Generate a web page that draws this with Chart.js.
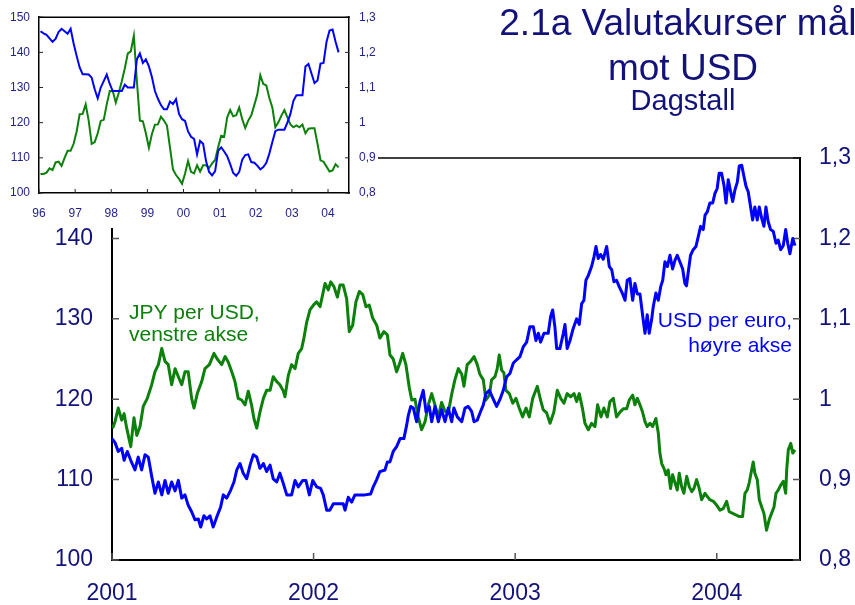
<!DOCTYPE html>
<html>
<head>
<meta charset="utf-8">
<script src="https://cdn.jsdelivr.net/npm/chart.js@4.4.1/dist/chart.umd.min.js"></script>
<style>
  body { margin: 0; background: #fff; }
  #wrap { position: relative; width: 855px; height: 605px; overflow: hidden; }
  #main { position: absolute; left: 0; top: 0; }
  #inset { position: absolute; left: 0; top: 0; background: #fff; }
</style>
</head>
<body>
<div id="wrap">
  <canvas id="main" width="855" height="605"></canvas>
  <canvas id="inset" width="378" height="228"></canvas>
</div>
<script>
// Tekster
const titleLines = ['2.1a Valutakurser målt', 'mot USD'];
const subtitle = 'Dagstall';
const jpyLabel = ['JPY per USD,', 'venstre akse'];
const eurLabel = ['USD per euro,', 'høyre akse'];

// Hovedfigur: dagstall 2001 - mai 2004 (desimalår)
const yearTicks = [2001, 2002, 2003, 2004];

const jpyYears = [
  2001.003, 2001.015, 2001.031, 2001.048, 2001.060, 2001.073, 2001.093, 2001.109, 2001.123, 2001.139,
  2001.155, 2001.175, 2001.197, 2001.213, 2001.230, 2001.247, 2001.263, 2001.279, 2001.296, 2001.313,
  2001.329, 2001.346, 2001.362, 2001.378, 2001.395, 2001.407, 2001.423, 2001.445, 2001.461, 2001.483,
  2001.506, 2001.522, 2001.544, 2001.561, 2001.577, 2001.594, 2001.610, 2001.626, 2001.643, 2001.660,
  2001.676, 2001.693, 2001.704, 2001.718, 2001.734, 2001.751, 2001.767, 2001.784, 2001.800, 2001.817,
  2001.833, 2001.850, 2001.858, 2001.875, 2001.891, 2001.908, 2001.924, 2001.941, 2001.952, 2001.966,
  2001.982, 2001.999, 2002.015, 2002.032, 2002.045, 2002.057, 2002.073, 2002.085, 2002.101, 2002.118,
  2002.131, 2002.147, 2002.164, 2002.177, 2002.194, 2002.210, 2002.227, 2002.244, 2002.260, 2002.276,
  2002.293, 2002.313, 2002.329, 2002.349, 2002.366, 2002.379, 2002.395, 2002.412, 2002.429, 2002.442,
  2002.458, 2002.475, 2002.487, 2002.503, 2002.519, 2002.536, 2002.553, 2002.569, 2002.586, 2002.602,
  2002.619, 2002.635, 2002.652, 2002.668, 2002.685, 2002.701, 2002.718, 2002.735, 2002.746, 2002.762,
  2002.779, 2002.796, 2002.812, 2002.825, 2002.842, 2002.855, 2002.872, 2002.883, 2002.900, 2002.911,
  2002.921, 2002.933, 2002.944, 2002.954, 2002.971, 2002.988, 2003.004, 2003.020, 2003.037, 2003.054,
  2003.070, 2003.087, 2003.110, 2003.126, 2003.139, 2003.156, 2003.173, 2003.192, 2003.209, 2003.226,
  2003.242, 2003.258, 2003.275, 2003.292, 2003.305, 2003.318, 2003.335, 2003.346, 2003.363, 2003.379,
  2003.396, 2003.409, 2003.426, 2003.440, 2003.457, 2003.470, 2003.487, 2003.503, 2003.520, 2003.536,
  2003.553, 2003.566, 2003.583, 2003.594, 2003.606, 2003.619, 2003.632, 2003.644, 2003.655, 2003.669,
  2003.682, 2003.698, 2003.710, 2003.718, 2003.727, 2003.738, 2003.748, 2003.759, 2003.771, 2003.781,
  2003.793, 2003.804, 2003.814, 2003.826, 2003.837, 2003.851, 2003.864, 2003.876, 2003.887, 2003.900,
  2003.913, 2003.925, 2003.942, 2003.953, 2003.966, 2003.983, 2004.000, 2004.016, 2004.032, 2004.049,
  2004.062, 2004.079, 2004.095, 2004.112, 2004.128, 2004.140, 2004.151, 2004.161, 2004.170, 2004.181,
  2004.189, 2004.201, 2004.211, 2004.223, 2004.234, 2004.247, 2004.260, 2004.272, 2004.284, 2004.294,
  2004.305, 2004.317, 2004.330, 2004.342, 2004.347, 2004.355, 2004.367, 2004.377, 2004.388
];
const jpyValues = [
  116.4, 117.2, 118.9, 117.4, 118.2, 116.4, 114.1, 117.7, 115.5, 116.6,
  119.1, 120.1, 121.8, 123.4, 124.3, 126.3, 124.7, 124.3, 121.8, 123.8,
  122.8, 121.8, 123.4, 123.4, 120.1, 118.9, 120.7, 122.2, 123.8, 124.3,
  125.7, 125.0, 124.3, 125.3, 124.6, 123.4, 122.2, 120.1, 119.9, 119.3,
  121.0, 119.2, 117.6, 116.4, 118.4, 120.1, 121.1, 121.1, 122.8, 122.2,
  121.8, 121.0, 120.3, 123.0, 124.3, 123.8, 125.7, 126.3, 127.6, 129.6,
  131.1, 131.7, 132.1, 131.5, 133.0, 134.4, 133.6, 134.6, 134.0, 132.7,
  134.2, 134.2, 132.5, 128.4, 129.2, 132.1, 133.4, 133.0, 131.5, 131.7,
  130.1, 129.2, 127.6, 128.4, 128.0, 125.5, 125.0, 123.4, 124.6, 125.7,
  124.3, 121.4, 119.9, 120.0, 117.8, 116.2, 117.2, 119.3, 120.7, 119.3,
  117.8, 119.6, 118.5, 118.3, 120.6, 122.4, 123.8, 123.1, 121.6, 124.3,
  124.7, 125.3, 124.3, 123.1, 122.4, 119.9, 120.5, 122.4, 122.8, 123.8,
  125.5, 123.6, 123.3, 121.1, 120.7, 119.5, 120.1, 118.9, 117.8, 118.9,
  117.8, 120.1, 121.6, 119.9, 118.7, 118.3, 117.0, 118.4, 121.1, 120.1,
  119.5, 120.7, 120.3, 120.7, 119.7, 120.7, 118.7, 117.0, 116.2, 117.0,
  116.6, 119.3, 117.8, 118.9, 117.8, 119.7, 120.1, 117.8, 118.4, 118.8,
  118.8, 119.9, 120.5, 119.3, 120.1, 119.3, 118.4, 117.2, 116.6, 117.0,
  116.6, 117.6, 115.8, 113.3, 112.0, 111.4, 110.6, 111.2, 108.9, 110.6,
  109.6, 108.7, 110.8, 109.1, 108.3, 110.4, 109.1, 108.5, 108.9, 110.0,
  108.9, 107.5, 108.3, 107.9, 107.5, 107.3, 106.8, 106.2, 106.4, 107.3,
  106.0, 105.8, 105.6, 105.4, 105.4, 108.3, 108.7, 109.6, 110.8, 112.2,
  110.8, 110.0, 107.5, 106.6, 105.8, 103.7, 105.0, 105.8, 106.6, 108.3,
  108.7, 109.3, 109.8, 108.3, 111.2, 113.7, 114.5, 113.3, 113.7
];

const eurYears = [
  2001.000, 2001.015, 2001.031, 2001.048, 2001.060, 2001.076, 2001.093, 2001.114, 2001.130, 2001.147,
  2001.164, 2001.180, 2001.197, 2001.213, 2001.230, 2001.247, 2001.263, 2001.279, 2001.296, 2001.313,
  2001.329, 2001.346, 2001.362, 2001.378, 2001.395, 2001.412, 2001.428, 2001.440, 2001.456, 2001.470,
  2001.486, 2001.502, 2001.522, 2001.539, 2001.552, 2001.569, 2001.589, 2001.605, 2001.619, 2001.635,
  2001.651, 2001.668, 2001.685, 2001.701, 2001.718, 2001.734, 2001.751, 2001.767, 2001.784, 2001.800,
  2001.817, 2001.833, 2001.850, 2001.867, 2001.891, 2001.908, 2001.924, 2001.946, 2001.962, 2001.979,
  2001.996, 2002.015, 2002.035, 2002.048, 2002.065, 2002.081, 2002.098, 2002.118, 2002.147, 2002.156,
  2002.172, 2002.189, 2002.205, 2002.230, 2002.255, 2002.283, 2002.296, 2002.313, 2002.329, 2002.354,
  2002.366, 2002.379, 2002.395, 2002.412, 2002.429, 2002.448, 2002.462, 2002.470, 2002.482, 2002.495,
  2002.511, 2002.528, 2002.544, 2002.558, 2002.574, 2002.586, 2002.602, 2002.619, 2002.635, 2002.652,
  2002.668, 2002.685, 2002.696, 2002.713, 2002.735, 2002.751, 2002.767, 2002.784, 2002.796, 2002.812,
  2002.829, 2002.842, 2002.855, 2002.872, 2002.888, 2002.908, 2002.925, 2002.941, 2002.958, 2002.974,
  2002.991, 2003.007, 2003.024, 2003.040, 2003.057, 2003.073, 2003.090, 2003.103, 2003.115, 2003.126,
  2003.143, 2003.164, 2003.176, 2003.186, 2003.197, 2003.206, 2003.222, 2003.239, 2003.247, 2003.258,
  2003.272, 2003.288, 2003.305, 2003.318, 2003.330, 2003.341, 2003.351, 2003.363, 2003.379, 2003.391,
  2003.401, 2003.412, 2003.424, 2003.437, 2003.454, 2003.467, 2003.479, 2003.490, 2003.503, 2003.516,
  2003.533, 2003.545, 2003.556, 2003.569, 2003.583, 2003.594, 2003.606, 2003.619, 2003.627, 2003.635,
  2003.644, 2003.655, 2003.665, 2003.677, 2003.685, 2003.698, 2003.710, 2003.722, 2003.732, 2003.743,
  2003.755, 2003.768, 2003.781, 2003.793, 2003.804, 2003.817, 2003.831, 2003.842, 2003.850, 2003.858,
  2003.870, 2003.883, 2003.897, 2003.908, 2003.920, 2003.933, 2003.942, 2003.953, 2003.966, 2003.980,
  2003.991, 2004.002, 2004.012, 2004.024, 2004.036, 2004.046, 2004.057, 2004.069, 2004.079, 2004.090,
  2004.102, 2004.112, 2004.124, 2004.135, 2004.145, 2004.156, 2004.168, 2004.178, 2004.189, 2004.201,
  2004.211, 2004.223, 2004.234, 2004.244, 2004.255, 2004.267, 2004.280, 2004.294, 2004.305, 2004.317,
  2004.330, 2004.342, 2004.352, 2004.363, 2004.377, 2004.388
];
const eurValues = [
  0.951, 0.946, 0.935, 0.939, 0.924, 0.935, 0.924, 0.912, 0.928, 0.912,
  0.931, 0.928, 0.904, 0.883, 0.897, 0.881, 0.899, 0.883, 0.897, 0.886,
  0.899, 0.877, 0.881, 0.868, 0.860, 0.850, 0.851, 0.841, 0.855, 0.851,
  0.855, 0.841, 0.855, 0.866, 0.881, 0.877, 0.887, 0.897, 0.912, 0.920,
  0.908, 0.901, 0.918, 0.931, 0.928, 0.914, 0.920, 0.910, 0.918, 0.901,
  0.897, 0.908, 0.895, 0.881, 0.881, 0.899, 0.891, 0.899, 0.899, 0.881,
  0.899, 0.891, 0.889, 0.881, 0.862, 0.862, 0.870, 0.870, 0.870, 0.862,
  0.878, 0.872, 0.881, 0.881, 0.881, 0.882, 0.891, 0.900, 0.910, 0.912,
  0.922, 0.922, 0.935, 0.941, 0.951, 0.951, 0.968, 0.980, 0.991, 0.989,
  0.972, 0.997, 1.011, 0.984, 0.991, 0.972, 0.991, 0.972, 0.987, 0.972,
  0.989, 0.972, 0.989, 0.978, 0.972, 0.989, 0.991, 0.985, 0.972, 0.974,
  0.985, 0.993, 1.007, 1.011, 1.002, 0.991, 1.000, 1.011, 1.028, 1.032,
  1.045, 1.049, 1.053, 1.065, 1.071, 1.090, 1.090, 1.073, 1.082, 1.071,
  1.082, 1.082, 1.103, 1.111, 1.090, 1.063, 1.063, 1.082, 1.093, 1.063,
  1.073, 1.088, 1.100, 1.093, 1.119, 1.123, 1.148, 1.154, 1.165, 1.177,
  1.190, 1.175, 1.180, 1.174, 1.190, 1.165, 1.161, 1.146, 1.148, 1.140,
  1.131, 1.123, 1.148, 1.150, 1.123, 1.144, 1.131, 1.131, 1.115, 1.099,
  1.082, 1.105, 1.082, 1.099, 1.115, 1.132, 1.123, 1.140, 1.148, 1.171,
  1.165, 1.179, 1.162, 1.173, 1.179, 1.171, 1.162, 1.144, 1.141, 1.157,
  1.179, 1.186, 1.190, 1.202, 1.215, 1.211, 1.229, 1.233, 1.244, 1.244,
  1.256, 1.262, 1.281, 1.281, 1.266, 1.244, 1.273, 1.258, 1.246, 1.260,
  1.270, 1.290, 1.291, 1.277, 1.265, 1.258, 1.239, 1.223, 1.239, 1.223,
  1.239, 1.225, 1.215, 1.239, 1.221, 1.211, 1.209, 1.194, 1.198, 1.186,
  1.191, 1.211, 1.194, 1.181, 1.200, 1.191
];

// Innfelt figur: månedstall fra januar 1996
const insetStart = 1996;
const insetYearTicks = [1996, 1997, 1998, 1999, 2000, 2001, 2002, 2003, 2004];
const insetJpy = [
  105.4, 105.4, 105.8, 107.0, 106.5, 108.7, 108.9, 107.7, 110.0, 112.0,
  112.0, 114.0, 117.5, 122.4, 122.5, 125.2, 120.6, 114.0, 114.5, 117.0,
  120.5, 120.8, 125.2, 129.0, 129.0, 125.7, 128.5, 131.8, 135.5, 139.7,
  140.3, 144.7, 132.0, 120.6, 120.4, 117.0, 112.9, 116.8, 119.4, 119.5,
  121.7, 120.6, 119.2, 113.0, 106.7, 105.1, 104.0, 102.6, 105.5, 109.1,
  106.0, 105.6, 107.9, 106.1, 107.9, 107.9, 107.1, 108.4, 109.4, 113.0,
  116.3, 116.0, 121.5, 123.6, 121.8, 122.1, 124.3, 121.0, 118.5, 120.6,
  122.1, 125.0, 128.0, 133.5, 131.0, 130.6, 127.0, 124.3, 118.7, 120.1,
  122.0, 123.6, 121.5, 119.5, 118.7, 119.2, 118.7, 119.5, 117.0, 118.3,
  118.4, 118.4, 114.0, 109.3, 108.9, 107.5, 106.1, 106.4, 108.2, 107.3
];
const insetEur = [
  1.260, 1.254, 1.250, 1.240, 1.230, 1.238, 1.258, 1.267, 1.260, 1.253,
  1.267, 1.225, 1.190, 1.157, 1.138, 1.138, 1.137, 1.128, 1.095, 1.069,
  1.100, 1.118, 1.137, 1.110, 1.090, 1.090, 1.090, 1.090, 1.108, 1.100,
  1.100, 1.100, 1.180, 1.197, 1.170, 1.180, 1.160, 1.130, 1.090, 1.068,
  1.050, 1.038, 1.038, 1.060, 1.053, 1.067, 1.025, 1.010, 1.005, 0.975,
  0.960, 0.954, 0.910, 0.948, 0.940, 0.890, 0.860, 0.850, 0.862, 0.920,
  0.930, 0.918, 0.905, 0.882, 0.857, 0.849, 0.860, 0.895, 0.908, 0.910,
  0.888, 0.886, 0.878, 0.867, 0.874, 0.886, 0.912, 0.945, 0.976, 0.980,
  0.980, 0.980, 1.000, 1.025, 1.062, 1.078, 1.078, 1.078, 1.160, 1.167,
  1.140, 1.113, 1.120, 1.168, 1.170, 1.230, 1.262, 1.265, 1.230, 1.200
];

const navy = '#12127a';
const green = '#0b800b';
const blue = '#0000ff';
const fam = '"Liberation Sans", Arial, Helvetica, sans-serif';

const komma = v => (Math.round(v * 10) / 10).toString().replace('.', ',');
const pts = (xs, ys) => xs.map((x, i) => ({ x: x, y: ys[i] }));
const monthPts = ys => ys.map((y, i) => ({ x: insetStart + (i + 0.5) / 12, y: y }));

// Tikkstreker innover + topplinje
const innerTicks = {
  id: 'innerTicks',
  beforeDatasetsDraw(chart, args, opts) {
    const { ctx, chartArea: a, scales } = chart;
    ctx.save();
    ctx.strokeStyle = opts.color;
    ctx.lineWidth = opts.width;
    ctx.beginPath();
    scales.x.ticks.forEach(t => {
      const px = scales.x.getPixelForValue(t.value);
      ctx.moveTo(px, a.bottom);
      ctx.lineTo(px, a.bottom - opts.len);
    });
    scales.yL.ticks.forEach(t => {
      const py = scales.yL.getPixelForValue(t.value);
      ctx.moveTo(a.left, py);
      ctx.lineTo(a.left + opts.len, py);
    });
    scales.yR.ticks.forEach(t => {
      const py = scales.yR.getPixelForValue(t.value);
      ctx.moveTo(a.right, py);
      ctx.lineTo(a.right - opts.len, py);
    });
    ctx.stroke();
    ctx.strokeStyle = '#000';
    ctx.lineWidth = opts.frame;
    ctx.beginPath();
    ctx.moveTo(a.left, a.top);
    ctx.lineTo(a.right + opts.frame / 2, a.top);
    ctx.stroke();
    ctx.restore();
  }
};

// Tittel og seriemerker
const mainTexts = {
  id: 'mainTexts',
  afterDraw(chart) {
    const ctx = chart.ctx;
    ctx.save();
    ctx.textBaseline = 'alphabetic';
    ctx.textAlign = 'center';
    ctx.fillStyle = navy;
    ctx.font = '37px ' + fam;
    ctx.fillText(titleLines[0], 683, 35);
    ctx.fillText(titleLines[1], 683, 80);
    ctx.font = '29px ' + fam;
    ctx.fillText(subtitle, 683, 110);

    ctx.font = '21px ' + fam;
    ctx.textAlign = 'left';
    ctx.fillStyle = green;
    ctx.fillText(jpyLabel[0], 129, 319);
    ctx.fillText(jpyLabel[1], 129, 341);
    ctx.textAlign = 'right';
    ctx.fillStyle = blue;
    ctx.fillText(eurLabel[0], 792, 327);
    ctx.fillText(eurLabel[1], 792, 352);
    ctx.restore();
  }
};

function axisBorder(w) {
  return { display: true, color: '#000', width: w };
}

// Hovedfigur
new Chart(document.getElementById('main'), {
  type: 'line',
  data: {
    datasets: [
      {
        label: 'USD per euro',
        data: pts(eurYears, eurValues),
        yAxisID: 'yR',
        borderColor: blue,
        borderWidth: 3,
        pointRadius: 0,
        tension: 0,
        borderJoinStyle: 'round'
      },
      {
        label: 'JPY per USD',
        data: pts(jpyYears, jpyValues),
        yAxisID: 'yL',
        borderColor: green,
        borderWidth: 3,
        pointRadius: 0,
        tension: 0,
        borderJoinStyle: 'round'
      }
    ]
  },
  options: {
    responsive: false,
    animation: false,
    events: [],
    layout: { padding: { top: 158, left: 0, right: 0, bottom: 0 } },
    plugins: {
      legend: { display: false },
      tooltip: { enabled: false },
      innerTicks: { color: '#555', width: 1.5, len: 7, frame: 1.5 }
    },
    scales: {
      x: {
        type: 'linear',
        min: 2001,
        max: 2004.413,
        afterFit: s => { s.height = 45; },
        afterBuildTicks: s => { s.ticks = yearTicks.map(v => ({ value: v })); },
        ticks: {
          padding: 20,
          maxRotation: 0,
          autoSkip: false,
          color: navy,
          font: { family: fam, size: 23 },
          callback: v => String(v)
        },
        grid: { display: false, drawTicks: false },
        border: axisBorder(2)
      },
      yL: {
        position: 'left',
        min: 100,
        max: 150,
        afterFit: s => { s.width = 112; },
        ticks: { stepSize: 10, padding: 19, color: navy, font: { family: fam, size: 23 } },
        grid: { display: false, drawTicks: false },
        border: axisBorder(2)
      },
      yR: {
        position: 'right',
        min: 0.8,
        max: 1.3,
        afterFit: s => { s.width = 55; },
        ticks: { stepSize: 0.1, padding: 19, color: navy, font: { family: fam, size: 23 }, callback: komma },
        grid: { display: false, drawTicks: false },
        border: axisBorder(2)
      }
    }
  },
  plugins: [innerTicks, mainTexts]
});

// Innfelt figur, månedstall 1996-2004
new Chart(document.getElementById('inset'), {
  type: 'line',
  data: {
    datasets: [
      {
        label: 'USD per euro',
        data: monthPts(insetEur),
        yAxisID: 'yR',
        borderColor: blue,
        borderWidth: 2,
        pointRadius: 0,
        tension: 0
      },
      {
        label: 'JPY per USD',
        data: monthPts(insetJpy),
        yAxisID: 'yL',
        borderColor: green,
        borderWidth: 2,
        pointRadius: 0,
        tension: 0
      }
    ]
  },
  options: {
    responsive: false,
    animation: false,
    events: [],
    layout: { padding: { top: 15, left: 0, right: 0, bottom: 0 } },
    plugins: {
      legend: { display: false },
      tooltip: { enabled: false },
      innerTicks: { color: '#222', width: 1, len: 4, frame: 1.5 }
    },
    scales: {
      x: {
        type: 'linear',
        min: 1996,
        max: 2004.58,
        afterFit: s => { s.height = 35; },
        afterBuildTicks: s => { s.ticks = insetYearTicks.map(v => ({ value: v })); },
        ticks: {
          padding: 13,
          maxRotation: 0,
          autoSkip: false,
          color: '#24248c',
          font: { family: fam, size: 12 },
          callback: v => String(v).slice(2)
        },
        grid: { display: false, drawTicks: false },
        border: axisBorder(1.5)
      },
      yL: {
        position: 'left',
        min: 100,
        max: 150,
        afterFit: s => { s.width = 39; },
        ticks: { stepSize: 10, padding: 9, color: '#24248c', font: { family: fam, size: 12 } },
        grid: { display: false, drawTicks: false },
        border: axisBorder(1.5)
      },
      yR: {
        position: 'right',
        min: 0.8,
        max: 1.3,
        afterFit: s => { s.width = 29; },
        ticks: { stepSize: 0.1, padding: 10, color: '#24248c', font: { family: fam, size: 12 }, callback: komma },
        grid: { display: false, drawTicks: false },
        border: axisBorder(1.5)
      }
    }
  },
  plugins: [innerTicks]
});
</script>
</body>
</html>
